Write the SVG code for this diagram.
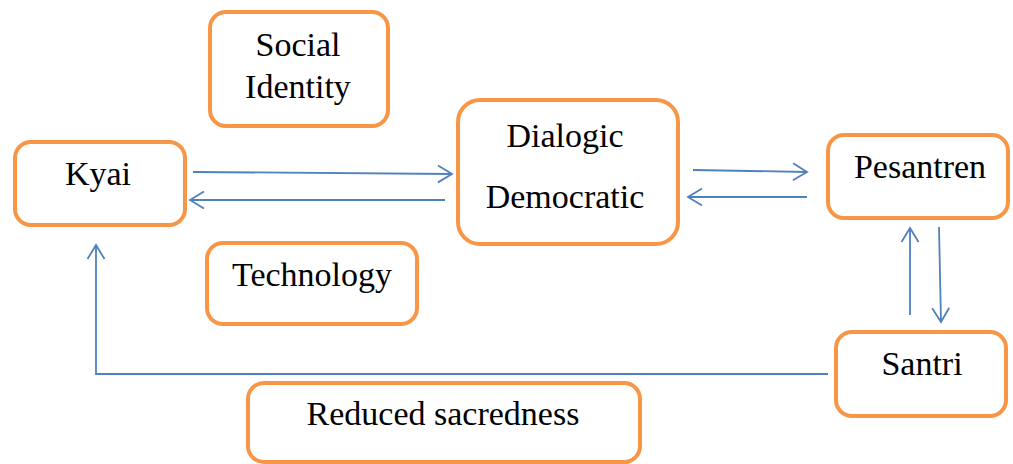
<svg xmlns="http://www.w3.org/2000/svg" width="1013" height="464" viewBox="0 0 1013 464">
<style>
.box{fill:#fff;stroke:#F79646;stroke-width:4}
.t{font-family:"Liberation Serif","Times New Roman",serif;font-size:34px;fill:#000;text-anchor:middle}
.c{fill:none;stroke:#4F81BD;stroke-width:1.8}
</style>
<defs>
<marker id="ah" viewBox="0 0 18 20" refX="16" refY="10" markerWidth="18" markerHeight="20" markerUnits="userSpaceOnUse" orient="auto">
<path d="M2,1.5 L16,10 L2,18.5" fill="none" stroke="#4F81BD" stroke-width="1.8"/>
</marker>
</defs>
<rect width="1013" height="464" fill="#fff"/>
<g id="connectors">
<path class="c" d="M193,172 L452,174" marker-end="url(#ah)"/>
<path class="c" d="M445,200 L190,200" marker-end="url(#ah)"/>
<path class="c" d="M693,170 L807,172" marker-end="url(#ah)"/>
<path class="c" d="M807,197 L688,197" marker-end="url(#ah)"/>
<path class="c" d="M910,315 L910,228" marker-end="url(#ah)"/>
<path class="c" d="M939,227 L941,322" marker-end="url(#ah)"/>
<path class="c" d="M828,374 L96,374 L96,245" marker-end="url(#ah)"/>
</g>
<g id="kyai"><rect class="box" x="15" y="142" width="170" height="83" rx="16"/><text class="t" x="98" y="185">Kyai</text></g>
<g id="social-identity"><rect class="box" x="210" y="12" width="178" height="114" rx="16"/><text class="t" x="298" y="56">Social</text><text class="t" x="298" y="98">Identity</text></g>
<g id="dialogic-democratic"><rect class="box" x="458" y="100" width="220" height="144" rx="22"/><text class="t" x="565" y="147">Dialogic</text><text class="t" x="565" y="208">Democratic</text></g>
<g id="pesantren"><rect class="box" x="828" y="135" width="180" height="83" rx="16"/><text class="t" x="920" y="178">Pesantren</text></g>
<g id="santri"><rect class="box" x="836" y="332" width="170" height="84" rx="16"/><text class="t" x="922" y="375">Santri</text></g>
<g id="technology"><rect class="box" x="207" y="243" width="210" height="81" rx="16"/><text class="t" x="312" y="286">Technology</text></g>
<g id="reduced-sacredness"><rect class="box" x="248" y="383" width="392" height="79" rx="16"/><text class="t" x="443" y="425">Reduced sacredness</text></g>
</svg>
